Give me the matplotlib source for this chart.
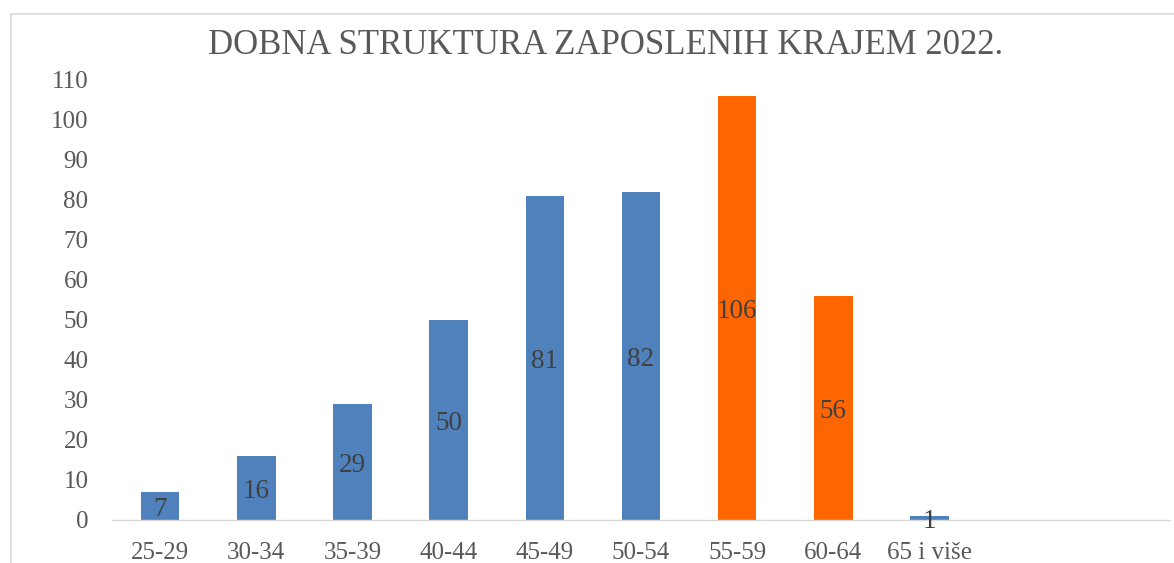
import matplotlib.pyplot as plt
from matplotlib.lines import Line2D

categories = ['25-29', '30-34', '35-39', '40-44', '45-49', '50-54',
              '55-59', '60-64', '65 i više']
values = [7, 16, 29, 50, 81, 82, 106, 56, 1]
highlight = ['55-59', '60-64']

blue = '#4F81BD'
orange = '#FF6600'
text_gray = '#595959'
serif = ['Liberation Serif', 'DejaVu Serif']

fig = plt.figure(figsize=(11.74, 5.63), dpi=100)
ax = fig.add_axes([112 / 1174, 1 - 520 / 563, (1170 - 112) / 1174, (520 - 80) / 563])

colors = [orange if c in highlight else blue for c in categories]
x = list(range(len(categories)))
bars = ax.bar(x, values, width=0.4, color=colors, zorder=2)

for bar, v in zip(bars, values):
    ax.text(bar.get_x() + bar.get_width() / 2, v / 2, str(v),
            ha='center', va='center_baseline', fontsize=19.5, color='#404040',
            family=serif, zorder=3)

ax.set_xlim(-0.5, 10.5)
ax.set_ylim(0, 110)
ax.set_yticks(range(0, 111, 10))
ax.set_xticks(x)
ax.set_xticklabels(categories)
ax.tick_params(axis='both', length=0, labelsize=18, labelcolor=text_gray)
ax.tick_params(axis='y', pad=17)
ax.tick_params(axis='x', pad=16)
for lab in ax.get_xticklabels() + ax.get_yticklabels():
    lab.set_family(serif)

for s in ['top', 'right', 'left']:
    ax.spines[s].set_visible(False)
ax.spines['bottom'].set_color('#D9D9D9')
ax.spines['bottom'].set_linewidth(1)

fig.text(606 / 1174, 1 - 45 / 563, 'DOBNA STRUKTURA ZAPOSLENIH KRAJEM 2022.',
         ha='center', va='center', fontsize=25, color=text_gray, family=serif)

# chart frame (cut off on the right and bottom)
fig.add_artist(Line2D([10.5 / 1174, 1.01], [1 - 13.5 / 563] * 2,
                      color='#D9D9D9', lw=1.2, transform=fig.transFigure))
fig.add_artist(Line2D([10.5 / 1174] * 2, [-0.01, 1 - 13.5 / 563],
                      color='#D9D9D9', lw=1.2, transform=fig.transFigure))

fig.savefig('out.png', dpi=100)
